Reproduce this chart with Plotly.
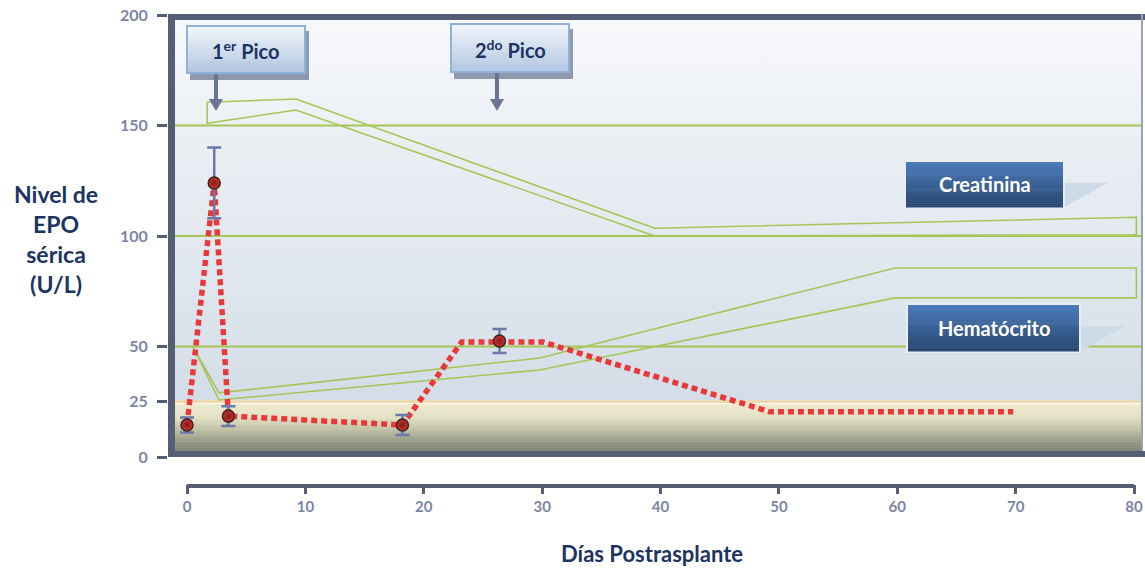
import plotly.graph_objects as go

# ---------------- data ----------------
# Serum EPO measurements (mean and spread)
epo_days = [0, 2.3, 3.5, 18.2, 26.4]
epo_mean = [14.5, 124, 18.5, 14.5, 52.5]
epo_sd = [3.4, 16, 4.5, 4.5, 5.4]

# EPO trend (dotted line)
trend_days = [0, 2.3, 3.5, 18.2, 23.2, 30.1, 49.2, 69.8]
trend_epo = [14.5, 124, 18.5, 14.5, 52, 52, 20.5, 20.5]

# Creatinina band (upper / lower edge)
creat_days = [1.7, 9.2, 39.5, 80.2]
creat_upper = [160.5, 162, 103.5, 108.5]
creat_lower = [151, 157, 100, 100.5]

# Hematócrito band (upper / lower edge)
hto_days = [0.5, 2.7, 29.8, 59.8, 80.2]
hto_upper = [50, 29, 44.8, 85.5, 85.5]
hto_lower = [50, 25.8, 39.4, 72, 72]

reference_levels = [50, 100, 150]
normal_limit = 25

x_ticks = list(range(0, 81, 10))
y_ticks = [0, 25, 50, 100, 150, 200]

# ---------------- geometry ----------------
W, H = 1145, 568
PLOT_L, PLOT_R, PLOT_T, PLOT_B = 168, 1143, 15, 484
X0_PX, X80_PX = 187, 1134
Y0_PX, Y200_PX = 457, 15

x_scale = (X80_PX - X0_PX) / 80
x_range = [-(X0_PX - PLOT_L) / x_scale, 80 + (PLOT_R - X80_PX) / x_scale]
y_scale = (Y0_PX - Y200_PX) / 200
y_range = [-(PLOT_B - Y0_PX) / y_scale, 200]


def px(x):
    return (x - PLOT_L) / (PLOT_R - PLOT_L)


def py(y):
    return (PLOT_B - y) / (PLOT_B - PLOT_T)


def hex_to_rgb(c):
    c = c.lstrip('#')
    return tuple(int(c[i:i + 2], 16) for i in (0, 2, 4))


def mix(c1, c2, t):
    a, b = hex_to_rgb(c1), hex_to_rgb(c2)
    return 'rgb(%d,%d,%d)' % tuple(round(a[i] + (b[i] - a[i]) * t) for i in range(3))


def scale_color(stops, t):
    for (t0, c0), (t1, c1) in zip(stops[:-1], stops[1:]):
        if t <= t1:
            return mix(c0, c1, (t - t0) / (t1 - t0) if t1 > t0 else 0)
    return mix(stops[-1][1], stops[-1][1], 0)


NAVY = '#1b3461'
FRAME = '#545e75'
GREEN = '#a5c657'
ARROW = '#6a7596'
TICK_FONT = dict(family='Lato', size=16, color='#7b85a3', weight='bold')

fig = go.Figure()

# ---------------- background panel (above the normal band) ----------------
xs_bg = [x_range[0], x_range[1], x_range[1], x_range[0], x_range[0]]
fig.add_trace(go.Scatter(
    x=xs_bg, y=[normal_limit, normal_limit, 200, 200, normal_limit],
    mode='none', fill='toself', hoverinfo='skip', showlegend=False,
    fillgradient=dict(type='vertical', start=normal_limit, stop=200,
                      colorscale=[[0, '#d3dde7'], [0.3, '#dfe6ed'],
                                  [0.65, '#eaeef3'], [1, '#f8f9fb']])))
fig.add_trace(go.Scatter(
    x=[x_range[0], x_range[1]], y=[normal_limit, normal_limit], mode='lines',
    line=dict(color='#f3d8a4', width=2.5), hoverinfo='skip', showlegend=False))

# reference levels
for lvl in reference_levels:
    fig.add_trace(go.Scatter(
        x=[x_range[0], x_range[1]], y=[lvl, lvl], mode='lines',
        line=dict(color=GREEN, width=2), hoverinfo='skip', showlegend=False))


def band_outline(days, upper, lower):
    xs = list(days) + list(days[::-1]) + [days[0]]
    ys = list(upper) + list(lower[::-1]) + [upper[0]]
    return xs, ys


for name, d, u, l in [('Creatinina', creat_days, creat_upper, creat_lower),
                      ('Hematócrito', hto_days, hto_upper, hto_lower)]:
    bx, by = band_outline(d, u, l)
    fig.add_trace(go.Scatter(x=bx, y=by, mode='lines', name=name,
                             line=dict(color=GREEN, width=1.6),
                             showlegend=False))

# EPO trend and measurements
fig.add_trace(go.Scatter(
    x=trend_days, y=trend_epo, mode='lines', name='EPO',
    line=dict(color='#e8393a', width=5.5, dash='6px,4px'), showlegend=False))
fig.add_trace(go.Scatter(
    x=epo_days, y=epo_mean, mode='markers', name='EPO sérica',
    marker=dict(size=12, color='#d6302b',
                gradient=dict(type='radial', color='#7a1f1d'),
                line=dict(color='#3b2424', width=1.5)),
    error_y=dict(type='data', array=epo_sd, color='#6b79a6',
                 thickness=2.5, width=7),
    showlegend=False))

# ---------------- decorations ----------------
shapes = []


def rect(x0, y0, x1, y1, color, layer='above'):
    shapes.append(dict(type='rect', xref='paper', yref='paper',
                       x0=px(x0), x1=px(x1), y0=py(y1), y1=py(y0),
                       fillcolor=color, line=dict(width=0), layer=layer))


def gradient_rect(x0, y0, x1, y1, stops, n=24, layer='above'):
    h = (y1 - y0) / n
    for i in range(n):
        rect(x0, y0 + i * h, x1, y0 + (i + 1) * h + 0.6,
             scale_color(stops, (i + 0.5) / n), layer=layer)


def outline(x0, y0, x1, y1, color, width):
    shapes.append(dict(type='rect', xref='paper', yref='paper',
                       x0=px(x0), x1=px(x1), y0=py(y1), y1=py(y0),
                       line=dict(color=color, width=width), layer='above'))


def down_arrow(x, y_tail, y_head, color):
    shapes.append(dict(type='line', xref='paper', yref='paper',
                       x0=px(x), x1=px(x), y0=py(y_tail), y1=py(y_head - 10),
                       line=dict(color=color, width=4), layer='above'))
    shapes.append(dict(type='path', xref='paper', yref='paper',
                       path='M %f,%f L %f,%f L %f,%f Z' % (
                           px(x - 7), py(y_head - 12), px(x + 7), py(y_head - 12),
                           px(x), py(y_head)),
                       fillcolor=color, line=dict(width=0), layer='above'))


# normal range band below 25 U/L (shaded cream to olive)
gradient_rect(168, 404, 1143, 452,
              [(0, '#edeacf'), (0.28, '#e3e1c5'), (0.5, '#c5c5aa'),
               (0.75, '#9c9f8a'), (1, '#7d8171')], n=40, layer='below')

# frame around the plotting panel
rect(168, 14, 1145, 20, FRAME)
rect(168, 14, 175, 457, FRAME)
rect(168, 451, 1145, 457, FRAME)
rect(1141, 14, 1143, 451, '#9aa2b4')

# x axis line
shapes.append(dict(type='line', xref='x', yref='paper', x0=0, x1=80,
                   y0=py(486), y1=py(486),
                   line=dict(color=FRAME, width=4), layer='above'))

annotations = []

# peak callouts
peaks = [('1<sup>er</sup> Pico', (187, 26, 305, 73), 216),
         ('2<sup>do</sup> Pico', (451, 24, 569, 72), 497)]
for text, (x0, y0, x1, y1), ax_px in peaks:
    rect(x0 + 3, y0 + 5, x1 + 4, y1 + 7, '#8f98ad')
    gradient_rect(x0, y0, x1, y1, [(0, '#f2f6fb'), (1, '#b2c6e1')])
    outline(x0, y0, x1, y1, '#90b1da', 2)
    down_arrow(ax_px, y1 + 1, 111, ARROW)
    annotations.append(dict(xref='paper', yref='paper', x=px((x0 + x1) / 2),
                            y=py((y0 + y1) / 2 + 1), text=text, showarrow=False,
                            xanchor='center', yanchor='middle',
                            font=dict(family='Lato', size=20, color=NAVY,
                                      weight='bold')))

# series labels
labels = [('Creatinina', (906, 162, 1063, 207)),
          ('Hematócrito', (908, 305, 1079, 351))]
for text, (x0, y0, x1, y1) in labels:
    ym = y0 + (y1 - y0) * 0.46
    shapes.append(dict(type='path', xref='paper', yref='paper',
                       path='M %f,%f L %f,%f L %f,%f Z' % (
                           px(x1), py(ym), px(x1 + 45), py(ym),
                           px(x1), py(y1 + 1)),
                       fillcolor='#cddae8', line=dict(width=0), layer='above'))
    rect(x0 - 2, y0 - 2, x1 + 2, y1 + 2, '#e9eef4')
    gradient_rect(x0, y0, x1, y1, [(0, '#4b7cba'), (1, '#29466f')])
    annotations.append(dict(xref='paper', yref='paper', x=px((x0 + x1) / 2),
                            y=py((y0 + y1) / 2), text=text, showarrow=False,
                            xanchor='center', yanchor='middle',
                            font=dict(family='Lato', size=20, color='white',
                                      weight='bold')))

# axis titles
annotations.append(dict(xref='paper', yref='paper', x=px(56), y=py(239),
                        text='Nivel de<br>EPO<br>sérica<br>(U/L)',
                        showarrow=False, align='center',
                        xanchor='center', yanchor='middle',
                        font=dict(family='Lato', size=23, color=NAVY,
                                  weight='bold')))
annotations.append(dict(xref='paper', yref='paper', x=px(652), y=py(553),
                        text='Días Postrasplante', showarrow=False,
                        xanchor='center', yanchor='middle',
                        font=dict(family='Lato', size=22, color=NAVY,
                                  weight='bold')))

fig.update_layout(
    width=W, height=H,
    margin=dict(l=PLOT_L, r=W - PLOT_R, t=PLOT_T, b=H - PLOT_B, pad=0),
    paper_bgcolor='white', plot_bgcolor='white',
    shapes=shapes, annotations=annotations,
    xaxis=dict(range=x_range, tickvals=x_ticks, ticks='outside', ticklen=9,
               tickwidth=2.5, tickcolor=FRAME, showgrid=False, zeroline=False,
               showline=False, tickfont=dict(family='Lato', size=15,
                                             color='#7b85a3', weight='bold'),
               fixedrange=True),
    yaxis=dict(range=y_range, tickvals=y_ticks, ticks='outside', ticklen=10,
               tickwidth=3, tickcolor=FRAME, showgrid=False, zeroline=False,
               showline=False, tickfont=TICK_FONT, ticklabelstandoff=6,
               fixedrange=True),
    showlegend=False,
)

fig.write_html('out.html')
